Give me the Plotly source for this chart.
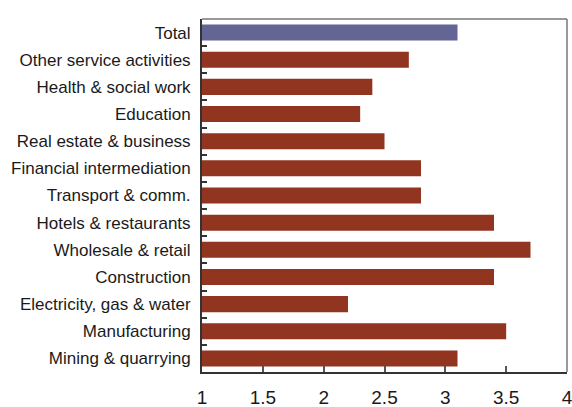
import plotly.graph_objects as go

# Sector growth, top to bottom as listed
sectors = [
    "Total",
    "Other service activities",
    "Health & social work",
    "Education",
    "Real estate & business",
    "Financial intermediation",
    "Transport & comm.",
    "Hotels & restaurants",
    "Wholesale & retail",
    "Construction",
    "Electricity, gas & water",
    "Manufacturing",
    "Mining & quarrying",
]
values = [3.1, 2.7, 2.4, 2.3, 2.5, 2.8, 2.8, 3.4, 3.7, 3.4, 2.2, 3.5, 3.1]
x_ticks = [1, 1.5, 2, 2.5, 3, 3.5, 4]

TOTAL_COLOR = "#636594"
SECTOR_COLOR = "#913520"
colors = [TOTAL_COLOR if s == "Total" else SECTOR_COLOR for s in sectors]

AXIS_MIN = 1

fig = go.Figure(
    go.Bar(
        # bars start at the axis minimum
        x=[v - AXIS_MIN for v in values],
        y=sectors,
        base=AXIS_MIN,
        orientation="h",
        customdata=values,
        marker=dict(color=colors, line=dict(width=0)),
        hovertemplate="%{y}: %{customdata}<extra></extra>",
    )
)

font_family = "Liberation Sans, Arial, sans-serif"

fig.update_layout(
    width=572,
    height=407,
    margin=dict(l=202, r=5, t=19, b=35),
    paper_bgcolor="white",
    plot_bgcolor="white",
    bargap=0.41,
    showlegend=False,
    font=dict(family=font_family, color="#1a1a1a"),
    xaxis=dict(
        range=[AXIS_MIN, 4],
        tickvals=x_ticks,
        ticktext=[f"{t:g}" for t in x_ticks],
        ticks="inside",
        ticklen=6,
        tickcolor="#555",
        tickwidth=1.5,
        showgrid=False,
        zeroline=False,
        showline=True,
        linecolor="#333",
        linewidth=2,
        tickfont=dict(size=19, family=font_family, color="#1a1a1a"),
        ticklabelstandoff=7,
        ticklabeloverflow="allow",
        automargin=False,
        fixedrange=True,
    ),
    yaxis=dict(
        categoryorder="array",
        categoryarray=sectors[::-1],
        ticks="inside",
        tickson="boundaries",
        ticklen=5,
        tickcolor="#333",
        tickwidth=1.5,
        showgrid=False,
        zeroline=False,
        showline=True,
        linecolor="#333",
        linewidth=2,
        tickfont=dict(size=17, family=font_family, color="#1a1a1a"),
        ticklabelstandoff=6,
        automargin=False,
        fixedrange=True,
    ),
    shapes=[
        # light frame along the top and right of the plot area
        dict(type="line", xref="paper", yref="paper", x0=0, x1=1, y0=1, y1=1,
             line=dict(color="#777", width=1.5)),
        dict(type="line", xref="paper", yref="paper", x0=1, x1=1, y0=0, y1=1,
             line=dict(color="#777", width=1.5)),
    ],
)

fig.write_html("out.html")
